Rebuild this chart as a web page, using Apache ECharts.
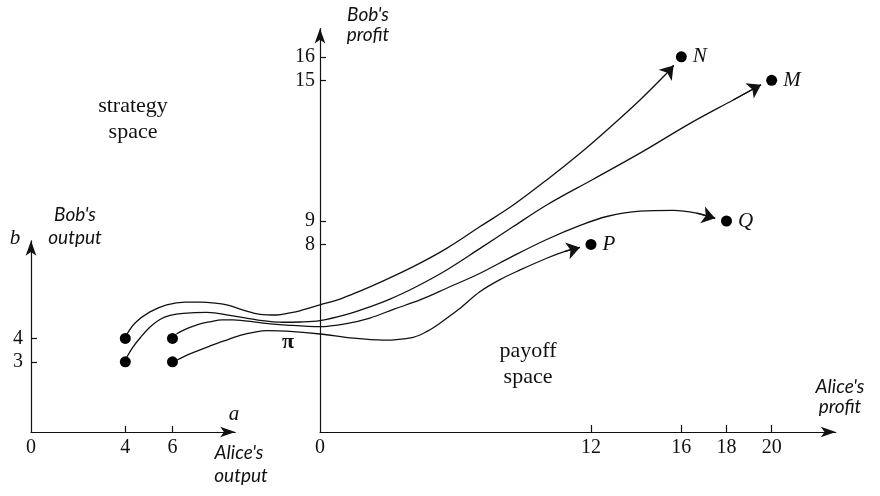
<!DOCTYPE html>
<html>
<head>
<meta charset="utf-8">
<script src="https://cdn.jsdelivr.net/npm/echarts@6/dist/echarts.min.js"></script>
<style>html,body{margin:0;padding:0;background:#fff}#c{width:880px;height:496px}</style>
</head>
<body>
<div id="c"></div>
<script>
// ---- strategy space (Alice's output a, Bob's output b)
const strategyA = [4, 4, 6, 6];
const strategyB = [4, 3, 4, 3];
const aTicks = [4, 6];
const aTickLabels = [0, 4, 6];
const bTicks = [3, 4];

// ---- payoff space (Alice's profit, Bob's profit)
const payoffNames = ['N', 'M', 'Q', 'P'];
const aliceProfit = [16, 20, 18, 12];
const bobProfit = [16, 15, 9, 8];
const aliceProfitTicks = [12, 16, 18, 20];
const aliceProfitTickLabels = [0, 12, 16, 18, 20];
const bobProfitTicks = [8, 9, 15, 16];

// ---- the mapping π: curves, in payoff-space units
const curveToN = [[-8.57,4.14],[-8.19,4.65],[-7.53,5.12],[-6.79,5.42],[-5.98,5.54],[-5.31,5.54],[-4.65,5.50],[-4.13,5.42],[-3.40,5.20],[-2.66,5.02],[-1.92,4.99],[-1.33,5.08],[-0.89,5.17],[0,5.42],[0.89,5.67],[1.77,6.01],[2.66,6.38],[4.13,7.05],[5.61,7.83],[7.09,8.76],[8.56,9.68],[10.04,10.75],[11.52,11.89],[12.70,12.87],[14.17,14.16],[15.41,15.35],[15.66,15.63]];
const curveToM = [[-8.55,3.20],[-8.28,3.63],[-7.97,4.01],[-7.53,4.48],[-7.09,4.80],[-6.64,4.97],[-6.05,5.06],[-5.02,5.10],[-3.85,4.95],[-2.80,4.78],[-1.63,4.68],[-0.89,4.69],[0,4.75],[1.11,4.99],[2.21,5.34],[3.10,5.67],[4.13,6.13],[5.61,6.91],[7.09,7.83],[8.56,8.76],[10.04,9.68],[12.10,10.78],[14.17,11.89],[16.39,13.16],[18.30,14.16],[19.53,14.81]];
const curveToQ = [[-6.36,4.18],[-6.11,4.31],[-5.76,4.46],[-5.31,4.61],[-4.87,4.70],[-4.34,4.78],[-3.84,4.78],[-2.66,4.66],[-1.48,4.56],[0,4.49],[1.11,4.61],[2.21,4.86],[3.25,5.23],[4.43,5.63],[5.61,6.13],[7.09,6.77],[8.56,7.51],[10.04,8.21],[11.52,8.81],[12.70,9.19],[14.17,9.42],[15.65,9.45],[16.68,9.33],[17.50,9.11]];
const curveToP = [[-6.33,3.07],[-5.76,3.33],[-4.87,3.67],[-4.21,3.90],[-3.54,4.12],[-2.88,4.26],[-2.36,4.32],[-1.18,4.28],[0,4.18],[1.48,4.00],[2.80,3.92],[4.13,4.04],[4.78,4.31],[5.31,4.64],[6.13,5.22],[7.09,5.99],[7.97,6.50],[8.86,6.91],[10.04,7.41],[10.85,7.70],[11.51,7.87]];
const curves = [curveToN, curveToM, curveToQ, curveToP];

const INK = '#111';
const SERIF = '"Liberation Serif", "DejaVu Serif", serif';
const HAND = 'Lato, "Open Sans", sans-serif';

function axisBase(extra) {
  return Object.assign({
    type: 'value',
    splitLine: { show: false },
    axisLine: { show: true, onZero: false, symbol: ['none', 'arrow'], symbolSize: [8, 15],
      lineStyle: { color: INK, width: 1.2 } },
  }, extra);
}
function hiddenAxis(extra) {
  return Object.assign({ type: 'value', show: false, axisLine: { show: false }, axisTick: { show: false },
    axisLabel: { show: false }, splitLine: { show: false } }, extra);
}
function txt(s, x, y, font, style, size, weight) {
  return { type: 'text', x: x, y: y, silent: true,
    style: { text: s, fill: INK, font: style + ' ' + (weight || 'normal') + ' ' + size + 'px ' + font,
      align: 'center', verticalAlign: 'middle' } };
}

const chart = echarts.init(document.getElementById('c'), null, { renderer: 'canvas' });

const strategyPts = strategyA.map((a, i) => [a, strategyB[i]]);
const payoffPts = aliceProfit.map((x, i) => ({ value: [x, bobProfit[i]], name: payoffNames[i] }));

// overlay grid covering the whole picture, in payoff-space units (same scale as the payoff axes)
const curveSeries = curves.map(c => ({
  type: 'line', xAxisIndex: 2, yAxisIndex: 2, data: c, smooth: 0.35,
  showSymbol: false, symbol: 'none', clip: false, silent: true,
  lineStyle: { color: INK, width: 1.3, opacity: 1 }, z: 3
}));

const option = {
  animation: false,
  backgroundColor: '#fff',
  grid: [
    { left: 31, bottom: 64, width: 204.2, height: 191.2, outerBoundsMode: 'none', containLabel: false },
    { left: 320, bottom: 64, width: 515.8, height: 403.5, outerBoundsMode: 'none', containLabel: false },
    { left: 0, top: 0, width: 880, height: 496, outerBoundsMode: 'none', containLabel: false }
  ],
  xAxis: [
    axisBase({ gridIndex: 0, min: 0, max: 8.66,
      axisTick: { show: true, inside: true, length: 6, customValues: aTicks, lineStyle: { color: INK, width: 1.2 } },
      axisLabel: { show: true, customValues: aTickLabels, margin: 6, color: INK, fontFamily: SERIF, fontSize: 20 } }),
    axisBase({ gridIndex: 1, min: 0, max: 22.84,
      axisTick: { show: true, inside: true, length: 7, customValues: aliceProfitTicks, lineStyle: { color: INK, width: 1.2 } },
      axisLabel: { show: true, customValues: aliceProfitTickLabels, margin: 6, color: INK, fontFamily: SERIF, fontSize: 20 } }),
    hiddenAxis({ gridIndex: 2, min: -14.172, max: 24.80 })
  ],
  yAxis: [
    axisBase({ gridIndex: 0, min: 0, max: 8.17,
      axisTick: { show: true, inside: true, length: 6, customValues: bTicks, lineStyle: { color: INK, width: 1.2 } },
      axisLabel: { show: true, customValues: bTicks, margin: 8, color: INK, fontFamily: SERIF, fontSize: 20 } }),
    axisBase({ gridIndex: 1, min: 0, max: 17.21,
      axisTick: { show: true, inside: true, length: 6, customValues: bobProfitTicks, lineStyle: { color: INK, width: 1.2 } },
      axisLabel: { show: true, customValues: bobProfitTicks, margin: 5, color: INK, fontFamily: SERIF, fontSize: 20 } }),
    hiddenAxis({ gridIndex: 2, min: -2.729, max: 18.422 })
  ],
  series: curveSeries.concat([
    {
      type: 'lines', coordinateSystem: 'cartesian2d', xAxisIndex: 2, yAxisIndex: 2,
      data: curves.map(c => ({ coords: [c[c.length - 2], c[c.length - 1]] })),
      symbol: ['none', 'arrow'], symbolSize: [7, 13], silent: true,
      lineStyle: { color: INK, width: 1.3, curveness: 0, opacity: 1 }, z: 4
    },
    {
      type: 'scatter', xAxisIndex: 0, yAxisIndex: 0, data: strategyPts,
      symbol: 'circle', symbolSize: 11, itemStyle: { color: '#000', opacity: 1 }, z: 5, silent: true
    },
    {
      type: 'scatter', xAxisIndex: 1, yAxisIndex: 1, data: payoffPts,
      symbol: 'circle', symbolSize: 11, itemStyle: { color: '#000', opacity: 1 }, z: 5, silent: true,
      label: { show: true, position: 'right', distance: 6, formatter: p => p.name,
        color: INK, fontFamily: SERIF, fontStyle: 'italic', fontSize: 21 }
    }
  ]),
  graphic: [
    txt('strategy', 133, 106, SERIF, 'normal', 22),
    txt('space', 133, 132, SERIF, 'normal', 22),
    txt('payoff', 528, 351, SERIF, 'normal', 22),
    txt('space', 528, 377, SERIF, 'normal', 22),
    txt('π', 288, 342, SERIF, 'normal', 22, 'bold'),
    txt('b', 15, 238, SERIF, 'italic', 21),
    txt('a', 234, 414, SERIF, 'italic', 21),
    txt("Bob's", 75, 215, HAND, 'italic', 19),
    txt('output', 75, 238, HAND, 'italic', 19),
    txt("Alice's", 239, 453, HAND, 'italic', 19),
    txt('output', 241, 476, HAND, 'italic', 19),
    txt("Bob's", 368, 15, HAND, 'italic', 19),
    txt('profit', 368, 35, HAND, 'italic', 19),
    txt("Alice's", 840, 387, HAND, 'italic', 19),
    txt('profit', 840, 407, HAND, 'italic', 19)
  ]
};

chart.setOption(option);
</script>
</body>
</html>
